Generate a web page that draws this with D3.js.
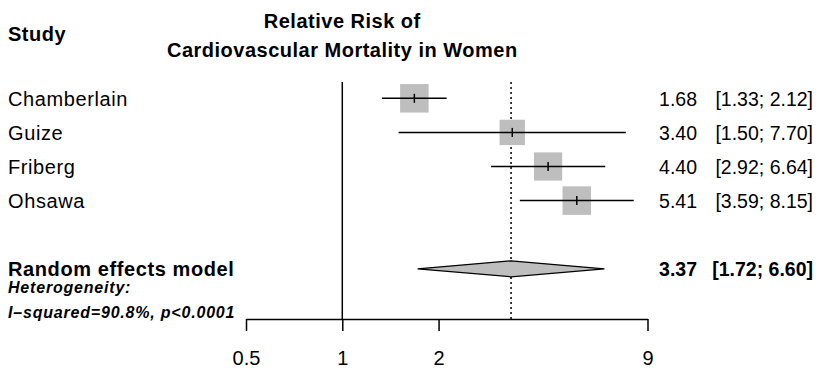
<!DOCTYPE html>
<html>
<head>
<meta charset="utf-8">
<script src="https://cdn.jsdelivr.net/npm/d3@7"></script>
<style>
  body { margin: 0; background: #fff; }
  text { font-family: "Liberation Sans", Arial, Helvetica, sans-serif; fill: #000; }
</style>
</head>
<body>
<svg id="chart" width="821" height="370"></svg>
<script>
// study data
const studies = ["Chamberlain", "Guize", "Friberg", "Ohsawa"];
const rr = [1.68, 3.40, 4.40, 5.41];
const lower = [1.33, 1.50, 2.92, 3.59];
const upper = [2.12, 7.70, 6.64, 8.15];
const weights = [26.5, 21.0, 26.0, 26.5];

// pooled estimate
const pooledLabel = "Random effects model";
const pooled = { est: 3.37, lo: 1.72, hi: 6.60 };
const hetLines = ["Heterogeneity:", "I\u2013squared=90.8%, p<0.0001"];

const tickVals = [0.5, 1, 2, 9];
const titleLines = ["Relative Risk of", "Cardiovascular Mortality in Women"];

var svg = d3.select("#chart");
var fmt = d3.format(".2f");

var x = d3.scaleLog().domain([0.5, 9]).range([246, 647.5]);
var row = d3.scaleLinear().domain([0, 5]).range([98.3, 268.8]);
var boxSize = d3.scaleSqrt().domain([0, d3.max(weights)]).range([0, 28.5]);

var axisY = 319;
var topY = 82;

// headers
svg.append("text")
    .attr("x", 8)
    .attr("y", 41)
    .style("font-size", "20px")
    .style("font-weight", "bold")
    .style("letter-spacing", "0.5px")
    .text("Study");

svg.selectAll(".title")
    .data(titleLines)
    .enter().append("text")
    .attr("class", "title")
    .attr("x", x(1))
    .attr("y", (d, i) => 28 + i * 29)
    .attr("text-anchor", "middle")
    .style("font-size", "20px")
    .style("font-weight", "bold")
    .style("letter-spacing", "0.5px")
    .text(d => d);

// reference line at 1 and pooled dotted line
svg.append("line")
    .attr("x1", x(1)).attr("x2", x(1))
    .attr("y1", topY).attr("y2", axisY)
    .attr("stroke", "#000")
    .attr("stroke-width", 1.5);

svg.append("line")
    .attr("x1", x(pooled.est)).attr("x2", x(pooled.est))
    .attr("y1", topY).attr("y2", axisY)
    .attr("stroke", "#000")
    .attr("stroke-width", 1.5)
    .attr("stroke-dasharray", "2,3");

// study rows
var rows = svg.selectAll(".study")
    .data(studies)
    .enter().append("g")
    .attr("class", "study")
    .attr("transform", (d, i) => "translate(0," + row(i) + ")");

rows.append("text")
    .attr("x", 8)
    .attr("y", 7.5)
    .style("font-size", "20px")
    .style("letter-spacing", "0.6px")
    .text(d => d);

rows.append("rect")
    .attr("x", (d, i) => x(rr[i]) - boxSize(weights[i]) / 2)
    .attr("y", (d, i) => -boxSize(weights[i]) / 2)
    .attr("width", (d, i) => boxSize(weights[i]))
    .attr("height", (d, i) => boxSize(weights[i]))
    .attr("fill", "#bebebe");

rows.append("line")
    .attr("x1", (d, i) => x(lower[i]))
    .attr("x2", (d, i) => x(upper[i]))
    .attr("stroke", "#000")
    .attr("stroke-width", 1.5);

rows.append("line")
    .attr("x1", (d, i) => x(rr[i]))
    .attr("x2", (d, i) => x(rr[i]))
    .attr("y1", -4.5).attr("y2", 4.5)
    .attr("stroke", "#000")
    .attr("stroke-width", 1.5);

rows.append("text")
    .attr("x", 697)
    .attr("y", 7.5)
    .attr("text-anchor", "end")
    .style("font-size", "19.5px")
    .text((d, i) => fmt(rr[i]));

rows.append("text")
    .attr("x", 813)
    .attr("y", 7.5)
    .attr("text-anchor", "end")
    .style("font-size", "19.5px")
    .text((d, i) => "[" + fmt(lower[i]) + "; " + fmt(upper[i]) + "]");

// pooled row
var py = row(5);
svg.append("text")
    .attr("x", 8)
    .attr("y", py + 7.5)
    .style("font-size", "20px")
    .style("font-weight", "bold")
    .style("letter-spacing", "0.6px")
    .text(pooledLabel);

svg.append("path")
    .attr("d", "M" + x(pooled.lo) + "," + py
        + "L" + x(pooled.est) + "," + (py - 8)
        + "L" + x(pooled.hi) + "," + py
        + "L" + x(pooled.est) + "," + (py + 8) + "Z")
    .attr("fill", "#bebebe")
    .attr("stroke", "#000")
    .attr("stroke-width", 1.3);

svg.append("text")
    .attr("x", 697)
    .attr("y", py + 7.5)
    .attr("text-anchor", "end")
    .style("font-size", "19.5px")
    .style("font-weight", "bold")
    .text(fmt(pooled.est));

svg.append("text")
    .attr("x", 813)
    .attr("y", py + 7.5)
    .attr("text-anchor", "end")
    .style("font-size", "19.5px")
    .style("font-weight", "bold")
    .text("[" + fmt(pooled.lo) + "; " + fmt(pooled.hi) + "]");

svg.selectAll(".het")
    .data(hetLines)
    .enter().append("text")
    .attr("class", "het")
    .attr("x", 8)
    .attr("y", (d, i) => 293 + i * 25)
    .style("font-size", "16px")
    .style("font-weight", "bold")
    .style("font-style", "italic")
    .style("letter-spacing", "0.8px")
    .text(d => d);

// axis
var axis = svg.append("g")
    .attr("transform", "translate(0," + axisY + ")")
    .call(d3.axisBottom(x)
        .tickValues(tickVals)
        .tickFormat(d3.format(""))
        .tickSize(12)
        .tickSizeOuter(0)
        .tickPadding(20));

axis.select(".domain").attr("stroke-width", 1.5);
axis.selectAll(".tick line").attr("stroke-width", 1.5);
axis.selectAll(".tick text")
    .style("font-family", "Liberation Sans, Arial, sans-serif")
    .style("font-size", "20px");
</script>
</body>
</html>
